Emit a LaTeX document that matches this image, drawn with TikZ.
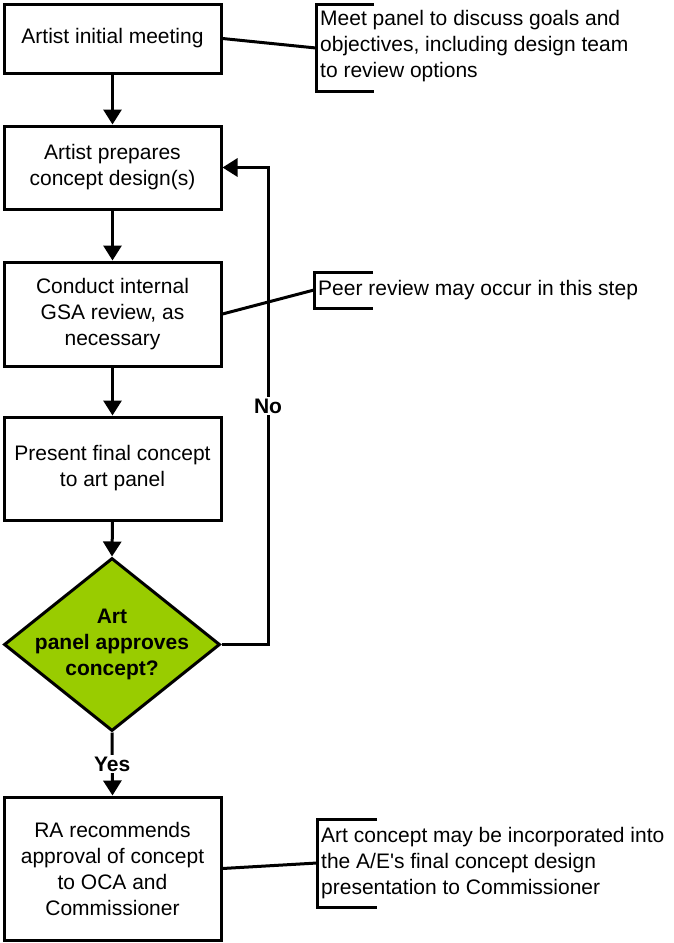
\documentclass[tikz,border=0pt]{standalone}
\usepackage{fontspec}
\setmainfont{Liberation Sans}
\usetikzlibrary{arrows.meta,shapes.geometric}
\definecolor{dgreen}{HTML}{99CC00}
\begin{document}
\begin{tikzpicture}[x=1pt,y=-1pt,
  txt/.style={font=\fontsize{21}{26}\selectfont},
  box/.style={txt,draw,line width=3pt,minimum width=217pt,align=center,inner sep=2pt},
  arr/.style={line width=3pt,-{Triangle[width=18pt,length=15pt]}},
  conn/.style={line width=3pt},
  brk/.style={line width=3pt},
  note/.style={txt,anchor=west,align=left,inner sep=0pt},
  lbl/.style={txt,font=\fontsize{21}{26}\selectfont\bfseries,fill=white,inner sep=2pt}]
\useasboundingbox (0,0) rectangle (674,943);

\node[box,minimum height=69pt] (b1) at (112.5,38.5) {Artist initial meeting};
\node[box,minimum height=83pt] (b2) at (112.5,167.5) {Artist prepares\\concept design(s)};
\node[box,minimum height=104pt] (b3) at (112.5,314) {Conduct internal\\GSA review, as\\necessary};
\node[box,minimum height=103pt] (b4) at (112.5,468.5) {Present final concept\\to art panel};
\node[diamond,draw,fill=dgreen,line width=3pt,minimum width=216pt,minimum height=173pt,inner sep=0pt,aspect=1.25] (d) at (112,644.5) {};
\node[txt,font=\fontsize{21}{26}\selectfont\bfseries,align=center] (dt) at (112,644.5) {Art\\panel approves\\concept?};
\node[box,minimum height=143pt] (b5) at (112.5,868.5) {RA recommends\\approval of concept\\to OCA and\\Commissioner};

% notes
\node[note] (n1) at (320,46) {Meet panel to discuss goals and\\objectives, including design team\\to review options};
\node[note] (n2) at (318,290) {Peer review may occur in this step};
\node[note] (n3) at (321,863) {Art concept may be incorporated into\\the A/E\textquotesingle s final concept design\\presentation to Commissioner};

\draw[brk] (374,4) -- (316,4) -- (316,91) -- (374,91);
\draw[brk] (373,272) -- (314,272) -- (314,308) -- (373,308);
\draw[brk] (377,819) -- (317,819) -- (317,907) -- (377,907);

\coordinate (a1) at (316,48);
\coordinate (a2) at (314,290);
\coordinate (a3) at (317,863);
\coordinate (fb) at (268,0);

% flow
\draw[arr] (b1.south) -- (b2.north);
\draw[arr] (b2.south) -- (b3.north);
\draw[arr] (b3.south) -- (b4.north);
\draw[arr] (b4.south) -- (d.north);
\draw[arr] (d.south) -- node[lbl] (yes) {Yes} (b5.north);
\draw[arr] (d.east) -| (fb |- b2.east) -- (b2.east);
\node[lbl] (no) at (268,406) {No};

% note connectors
\draw[conn] (b1.east) -- (a1);
\draw[conn] (b3.east) -- (a2);
\draw[conn] (b5.east) -- (a3);
\end{tikzpicture}
\end{document}
